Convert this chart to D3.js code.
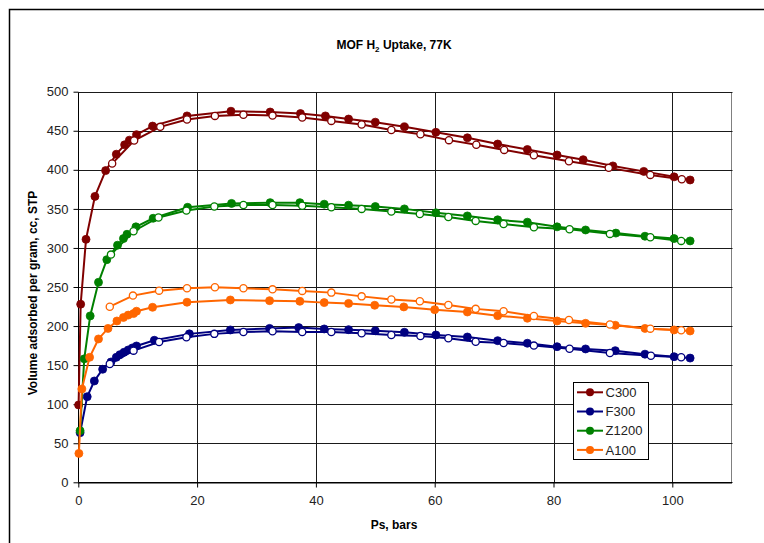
<!DOCTYPE html>
<html><head><meta charset="utf-8">
<script src="https://cdn.jsdelivr.net/npm/d3@7"></script>
<style>
html,body{margin:0;padding:0;background:#fff;}
svg{display:block;font-family:"Liberation Sans",Arial,sans-serif;}
</style></head>
<body><svg id="c" width="764" height="543"></svg>
<script>
// ---- data ----
const seriesNames = ["C300","F300","Z1200","A100"];
const seriesColors = ["#800000","#000080","#008000","#FF6600"];
const xTicks = [0,20,40,60,80,100];
const yTicks = [0,50,100,150,200,250,300,350,400,450,500];

const C300_P_ads = [0.05,0.4,1.3,2.8,4.6,6.4,7.8,8.6,9.8,12.5,18.3,25.7,32.3,37.4,41.6,45.5,50,54.9,60.2,65.5,70.6,75.6,80.6,85,90,95.2,100.3,103];
const C300_V_ads = [99,228,311,366,399,420,432,438,445,456,469,475,474,472,469,465,461,455,448,441,433,426,419,413,405,398,391,387];
const C300_P_des = [101.6,96.3,89.3,82.6,76.7,71.7,67,62.4,57.6,52.7,47.7,42.6,37.7,32.7,27.8,23,18.3,13.8,9.4,5.7];
const C300_V_des = [388,393.5,402.5,411,418.7,425.5,432,438,445.6,451,458,462.6,467,469.4,470.5,469,464.5,455,437.5,408];

const F300_P_ads = [0.3,1.5,2.7,4.1,5.5,6.4,7,7.7,8.4,9.1,9.8,12.8,18.7,25.6,32.2,37.1,41.4,45.5,50,54.9,60.2,65.5,70.6,75.6,80.6,85.4,90.4,95.4,100.3,103];
const F300_V_ads = [63.5,109.6,129.7,144.7,154,160,163.4,166.5,169.4,172,174.5,181.8,190,195,197,198,196.3,195.4,194,192,188.6,186,181.3,178,173.6,170.7,168.5,164,160.8,159];
const F300_P_des = [101.5,96.4,89.5,82.7,76.7,71.6,66.9,62.3,57.6,52.7,47.7,42.6,37.7,32.7,27.8,22.9,18.2,13.6,9.3,5.3];
const F300_V_des = [160,162,165.5,171,175,178.3,180,184.4,187.3,188.6,190.8,192.4,192.4,193.3,192.4,190,185.6,179.6,168.5,151.5];

const Z1200_P_ads = [0.3,1,2,3.4,4.8,6.6,7.6,8.2,9.7,12.6,18.4,25.8,32.3,37.3,41.4,45.5,50,54.9,60.2,65.5,70.6,75.6,80.6,85.4,90.5,95.4,100.3,103];
const Z1200_V_ads = [66,158,213,256,285,303.5,312,317.5,327,338,352,357,358,358,356,354.7,353,350,345,341,336,333,327,323,319,315,312,309];
const Z1200_P_des = [101.5,96.3,89.5,82.7,76.7,71.6,66.9,62.3,57.5,52.7,47.7,42.6,37.7,32.7,27.8,22.9,18.2,13.5,9.3,5.5];
const Z1200_V_des = [309,313.7,318,324,326.5,330.7,334.6,339.7,343.5,346.5,350,352,354,355,355,353,347.8,339,321.4,291.5];

const A100_P_ads = [0.1,0.6,1.9,3.4,5,6.5,7.6,8.4,9.3,9.8,12.5,18.3,25.6,32.2,37.3,41.4,45.5,49.9,54.8,60,65.5,70.6,75.6,80.6,85.4,90.4,95.4,100.3,103];
const A100_V_ads = [37,119.5,160,183.5,197,206.5,211,214,216,219,224,230.5,233.4,232.5,231.7,230,229,226.6,224.5,221,218,213.3,210,206.5,203.5,201,197,195,193.7];
const A100_P_des = [101.5,96.3,89.5,82.6,76.7,71.6,66.9,62.3,57.5,52.7,47.7,42.6,37.7,32.7,27.8,23,18.3,13.6,9.2,5.3];
const A100_V_des = [194.6,196.7,202,207.8,213,219,222,227,231.7,234,238,242.8,245,247,248.4,249.6,248.4,245.3,239,224.8];

const seriesData = [
  {ads:[C300_P_ads,C300_V_ads], des:[C300_P_des,C300_V_des]},
  {ads:[F300_P_ads,F300_V_ads], des:[F300_P_des,F300_V_des]},
  {ads:[Z1200_P_ads,Z1200_V_ads], des:[Z1200_P_des,Z1200_V_des]},
  {ads:[A100_P_ads,A100_V_ads], des:[A100_P_des,A100_V_des]}
];

// ---- drawing ----
const svg = d3.select("#c");
const L = 78.3, R = 731.7, T = 91.7, B = 482.3;
const x = d3.scaleLinear().domain([0,110]).range([L,R]);
const y = d3.scaleLinear().domain([0,500]).range([B,T]);
const snap = v => Math.round(v) + 0.5;

// outer frame
svg.append("rect").attr("x",9.5).attr("y",9.5).attr("width",900).attr("height",700)
  .attr("fill","none").attr("stroke","#000").attr("stroke-width",1.5);

// title
const title = svg.append("text").attr("x",394).attr("y",49).attr("text-anchor","middle")
  .attr("font-size",12).attr("font-weight","bold").attr("fill","#000");
title.append("tspan").text("MOF H");
title.append("tspan").attr("font-size",8).attr("dy",3).text("2");
title.append("tspan").attr("dy",-3).text(" Uptake, 77K");

// plot border (right, gray)
svg.append("rect").attr("x",snap(L)).attr("y",snap(T)).attr("width",Math.round(R-L)).attr("height",Math.round(B-T))
  .attr("fill","none").attr("stroke","#808080").attr("stroke-width",1);

// gridlines
const g = svg.append("g");
g.selectAll("line.h").data(yTicks.filter(d=>d>0)).enter().append("line")
  .attr("x1",snap(L)).attr("x2",snap(R)).attr("y1",d=>snap(y(d))).attr("y2",d=>snap(y(d)))
  .attr("stroke","#1a1a1a").attr("stroke-width",1);
g.selectAll("line.v").data(xTicks.filter(d=>d>0)).enter().append("line")
  .attr("y1",snap(T)).attr("y2",snap(B)).attr("x1",d=>snap(x(d))).attr("x2",d=>snap(x(d)))
  .attr("stroke","#1a1a1a").attr("stroke-width",1);

// axes
const yAxis = d3.axisLeft(y).tickValues(yTicks).tickSize(5).tickPadding(5);
const xAxis = d3.axisBottom(x).tickValues(xTicks).tickSize(5).tickPadding(8);
const ya = svg.append("g").attr("transform",`translate(${snap(L)},0)`).call(yAxis);
const xa = svg.append("g").attr("transform",`translate(0,${snap(B)})`).call(xAxis);
[ya,xa].forEach(a=>{
  a.select(".domain").attr("stroke","#000");
  a.selectAll(".tick line").attr("stroke","#000");
  a.selectAll(".tick text").attr("font-size",13).attr("fill","#222")
   .attr("font-family",'"Liberation Sans",Arial,sans-serif');
});
ya.select(".domain").attr("d",`M0,${snap(B)}V${snap(T)}`);
xa.select(".domain").attr("d",`M${snap(L)},0H${snap(R)}`);

// axis titles
svg.append("text").attr("x",394).attr("y",529).attr("text-anchor","middle")
  .attr("font-size",12).attr("font-weight","bold").text("Ps, bars");
svg.append("text").attr("transform","translate(37,293) rotate(-90)").attr("text-anchor","middle")
  .attr("font-size",12).attr("font-weight","bold").text("Volume adsorbed per gram, cc, STP");

// series
const line = d3.line().x(d=>x(d[0])).y(d=>y(d[1]));
seriesData.forEach((s,i)=>{
  const col = seriesColors[i];
  const ads = s.ads[0].map((p,k)=>[p,s.ads[1][k]]);
  const des = s.des[0].map((p,k)=>[p,s.des[1][k]]);
  const sg = svg.append("g");
  sg.append("path").attr("d",line(ads)).attr("fill","none").attr("stroke",col).attr("stroke-width",2);
  sg.selectAll("circle.a").data(ads).enter().append("circle")
    .attr("cx",d=>x(d[0])).attr("cy",d=>y(d[1])).attr("r",4).attr("fill",col).attr("stroke",col).attr("stroke-width",0.8);
  sg.append("path").attr("d",line(des)).attr("fill","none").attr("stroke",col).attr("stroke-width",2);
  sg.selectAll("circle.d").data(des).enter().append("circle")
    .attr("cx",d=>x(d[0])).attr("cy",d=>y(d[1])).attr("r",3.6).attr("fill","#fff").attr("stroke",col).attr("stroke-width",1.3);
});

// legend
const lg = svg.append("g");
lg.append("rect").attr("x",573.5).attr("y",382.5).attr("width",75).attr("height",77)
  .attr("fill","#fff").attr("stroke","#000").attr("stroke-width",1);
seriesNames.forEach((n,i)=>{
  const yy = 392.3 + i*19.2;
  lg.append("line").attr("x1",577).attr("x2",603).attr("y1",yy).attr("y2",yy)
    .attr("stroke",seriesColors[i]).attr("stroke-width",2);
  lg.append("circle").attr("cx",590).attr("cy",yy).attr("r",4).attr("fill",seriesColors[i]);
  lg.append("text").attr("x",605.5).attr("y",yy+4.7).attr("font-size",13).attr("fill","#222").text(n);
});
</script></body></html>
